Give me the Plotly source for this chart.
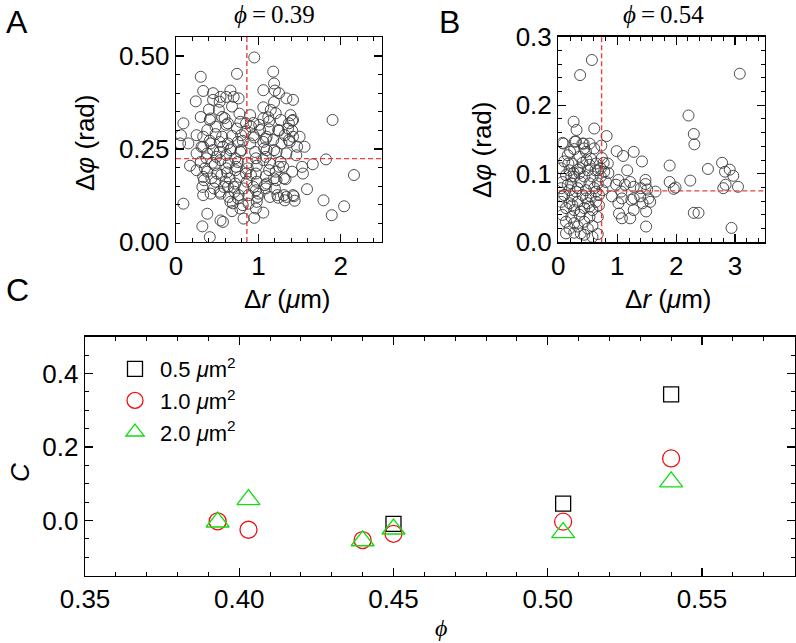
import plotly.graph_objects as go

# ---------------- data ----------------
# Panel A (phi = 0.39): displacement (um) vs orientation change (rad)
a_dr = [0.95,0.74,1.18,0.30,1.19,1.20,1.06,0.33,0.45,0.66,1.34,1.42,0.24,0.45,0.54,0.76,0.61,0.70,1.19,1.25,
        0.68,0.52,0.40,0.42,0.30,0.56,0.77,0.90,1.06,1.15,1.21,1.39,1.90,0.09,0.63,0.78,0.94,1.06,1.12,1.27,
        1.42,1.37,0.91,0.74,0.48,0.38,0.84,1.02,1.13,1.24,1.36,0.25,0.06,0.05,0.15,0.33,0.48,0.56,0.68,0.79,
        0.94,1.10,1.32,1.42,1.50,1.38,1.28,1.56,1.47,1.18,1.06,0.90,0.75,0.63,0.53,0.42,0.31,0.25,0.38,0.53,
        0.66,0.78,0.96,1.10,1.22,1.34,1.46,1.82,1.66,1.53,0.17,0.30,0.44,0.54,0.64,0.75,0.87,0.98,1.06,1.14,
        1.27,1.30,1.41,1.54,2.16,0.25,0.38,0.50,0.62,0.72,0.85,0.97,1.09,1.21,1.33,0.34,0.48,0.60,0.72,0.86,
        0.98,1.10,1.22,0.32,0.46,0.58,0.70,0.82,0.94,1.08,1.59,0.33,0.42,0.54,0.64,0.76,0.88,1.00,1.14,1.24,
        1.34,1.32,1.43,1.44,1.79,0.09,0.66,0.88,0.98,2.04,0.78,0.97,0.68,1.06,0.38,1.89,0.82,0.95,0.54,0.57,
        0.32,0.41,
        0.53,0.59,0.41,0.61,0.85,1.01,1.13,0.41,0.81,0.95,1.09,0.33,0.45,0.57,0.67,0.79,1.07,1.19,0.37,0.49,
        0.61,0.72,0.97,1.09,0.35,0.47,0.61,0.73,0.87,1.13,1.25,0.33,0.43,0.55,0.65,0.77,0.91,1.19,0.53,0.63,
        0.71,0.97,1.09,1.23,0.75,0.99,0.69,0.81,1.41,1.25,1.41,1.37,1.31,1.42,1.31,1.20]
a_dphi = [0.496,0.452,0.458,0.444,0.426,0.407,0.408,0.406,0.400,0.407,0.386,0.382,0.378,0.382,0.390,0.386,0.390,0.390,0.376,0.400,
          0.364,0.355,0.356,0.332,0.336,0.336,0.345,0.341,0.362,0.355,0.346,0.341,0.328,0.319,0.319,0.323,0.320,0.332,0.335,0.328,
          0.328,0.319,0.310,0.305,0.310,0.301,0.296,0.301,0.303,0.301,0.305,0.287,0.287,0.265,0.265,0.283,0.290,0.283,0.285,0.287,
          0.287,0.283,0.287,0.283,0.283,0.269,0.265,0.256,0.256,0.274,0.269,0.265,0.269,0.265,0.269,0.265,0.256,0.238,0.238,0.242,
          0.247,0.242,0.242,0.247,0.242,0.238,0.233,0.222,0.209,0.202,0.205,0.215,0.213,0.220,0.211,0.215,0.213,0.205,0.220,0.211,
          0.215,0.202,0.189,0.184,0.180,0.193,0.189,0.184,0.187,0.193,0.184,0.184,0.177,0.189,0.169,0.166,0.162,0.162,0.157,0.162,
          0.162,0.157,0.166,0.148,0.144,0.148,0.148,0.144,0.148,0.153,0.142,0.126,0.130,0.130,0.121,0.126,0.126,0.130,0.121,0.119,
          0.121,0.112,0.123,0.111,0.112,0.103,0.108,0.103,0.108,0.096,0.090,0.090,0.083,0.079,0.076,0.072,0.063,0.065,0.058,0.054,
          0.042,0.013,
          0.377,0.333,0.328,0.315,0.319,0.315,0.324,0.272,0.272,0.281,0.277,0.256,0.247,0.256,0.252,0.247,0.252,0.247,0.225,0.229,
          0.234,0.225,0.225,0.229,0.198,0.207,0.198,0.202,0.198,0.193,0.202,0.175,0.171,0.180,0.171,0.175,0.180,0.171,0.135,0.148,
          0.135,0.139,0.144,0.126,0.117,0.121,0.104,0.099,0.326,0.299,0.299,0.274,0.171,0.126,0.126,0.143]

# Panel B (phi = 0.54)
b_dr = [0.57,0.37,3.08,2.21,2.30,2.31,0.26,0.61,0.31,0.82,0.09,0.28,0.43,0.73,0.44,0.20,0.99,1.28,1.10,0.74,
        1.42,0.17,0.48,0.77,1.89,2.78,1.17,2.54,2.83,2.91,2.97,0.26,0.37,0.63,0.85,1.02,1.22,1.48,1.89,2.24,
        1.48,0.98,1.13,1.28,1.40,1.51,1.65,1.99,1.96,2.84,2.80,3.05,1.07,1.24,1.39,1.53,1.28,1.08,0.91,1.02,
        1.43,1.56,1.28,1.49,1.03,2.30,2.38,1.22,1.08,1.49,2.94,
        0.07,0.30,0.41,0.53,0.27,0.47,0.61,0.16,0.36,0.55,0.10,0.24,0.41,0.64,0.05,0.19,0.33,0.50,0.67,0.78,
        0.13,0.27,0.44,0.58,0.72,0.07,0.22,0.38,0.53,0.67,0.81,0.05,0.19,0.33,0.47,0.61,0.75,0.10,0.24,0.41,
        0.55,0.69,0.05,0.19,0.33,0.50,0.64,0.13,0.27,0.44,0.58,0.07,0.22,0.36,0.53,0.67,0.13,0.27,0.44,0.19,
        0.33,0.50,0.58,0.13,0.27,0.44,0.58,0.67,0.38,
        0.16,0.30,0.47,0.64,0.24,0.38,0.53,0.69,0.07,0.22,0.36,0.53,0.72,0.84]
b_dphi = [0.266,0.244,0.246,0.185,0.158,0.143,0.176,0.166,0.164,0.155,0.144,0.147,0.144,0.141,0.137,0.132,0.133,0.132,0.126,0.123,
          0.118,0.115,0.120,0.116,0.112,0.116,0.105,0.107,0.103,0.106,0.097,0.101,0.108,0.105,0.101,0.091,0.088,0.091,0.088,0.090,
          0.085,0.084,0.084,0.081,0.079,0.077,0.074,0.080,0.078,0.084,0.079,0.081,0.074,0.062,0.067,0.064,0.064,0.064,0.067,0.057,
          0.057,0.059,0.047,0.045,0.042,0.043,0.043,0.035,0.035,0.023,0.021,
          0.145,0.147,0.144,0.144,0.136,0.132,0.137,0.127,0.125,0.122,0.118,0.115,0.116,0.115,0.108,0.105,0.106,0.105,0.105,0.103,
          0.098,0.096,0.096,0.096,0.096,0.088,0.086,0.088,0.086,0.086,0.088,0.079,0.076,0.079,0.076,0.079,0.076,0.069,0.067,0.069,
          0.067,0.069,0.059,0.057,0.059,0.057,0.059,0.050,0.047,0.050,0.047,0.040,0.037,0.040,0.037,0.037,0.030,0.028,0.030,0.020,
          0.023,0.020,0.024,0.013,0.014,0.011,0.008,0.012,0.013,
          0.084,0.074,0.064,0.074,0.054,0.045,0.052,0.054,0.067,0.096,0.101,0.113,0.108,0.115]

# Mean values (dashed guide lines)
a_mean_dr, a_mean_dphi = 0.86, 0.224
b_mean_dr, b_mean_dphi = 0.735, 0.075

# Panel C: correlation coefficient vs packing fraction
c_phi_05 = [0.45, 0.505, 0.54]
c_val_05 = [-0.009, 0.046, 0.343]
c_phi_10 = [0.393, 0.403, 0.44, 0.45, 0.505, 0.54]
c_val_10 = [-0.002, -0.025, -0.053, -0.036, -0.003, 0.169]
c_phi_20 = [0.393, 0.403, 0.44, 0.45, 0.505, 0.54]
c_val_20 = [-0.004, 0.057, -0.055, -0.023, -0.033, 0.105]
c_names = ["0.5 <i>μ</i>m<sup>2</sup>", "1.0 <i>μ</i>m<sup>2</sup>", "2.0 <i>μ</i>m<sup>2</sup>"]

# ---------------- figure ----------------
W, H = 796, 643
FONT = "Liberation Sans, Arial, sans-serif"
SERIF = "Liberation Serif, Times New Roman, serif"

def px(x):
    return x / W

def py(y):
    return 1 - y / H

fig = go.Figure()

circ = dict(symbol="circle-open", size=11, color="#3a3a3a", line=dict(width=0.9, color="#3a3a3a"))
fig.add_trace(go.Scatter(x=a_dr, y=a_dphi, mode="markers", marker=circ, xaxis="x", yaxis="y", showlegend=False))
fig.add_trace(go.Scatter(x=b_dr, y=b_dphi, mode="markers", marker=circ, xaxis="x2", yaxis="y2", showlegend=False))

dash_line = dict(color="rgba(235,40,40,0.9)", width=1.4, dash="5px,3px")
A_XR, A_YR = [0, 2.5], [0, 0.551]
B_XR, B_YR = [0, 3.5], [0, 0.3]
fig.add_trace(go.Scatter(x=[a_mean_dr, a_mean_dr], y=A_YR, mode="lines", line=dash_line, xaxis="x", yaxis="y", showlegend=False))
fig.add_trace(go.Scatter(x=A_XR, y=[a_mean_dphi, a_mean_dphi], mode="lines", line=dash_line, xaxis="x", yaxis="y", showlegend=False))
fig.add_trace(go.Scatter(x=[b_mean_dr, b_mean_dr], y=B_YR, mode="lines", line=dash_line, xaxis="x2", yaxis="y2", showlegend=False))
fig.add_trace(go.Scatter(x=B_XR, y=[b_mean_dphi, b_mean_dphi], mode="lines", line=dash_line, xaxis="x2", yaxis="y2", showlegend=False))

fig.add_trace(go.Scatter(x=c_phi_05, y=c_val_05, mode="markers", name=c_names[0],
                         marker=dict(symbol="square-open", size=15, color="black", line=dict(width=1.3, color="black")),
                         xaxis="x3", yaxis="y3"))
fig.add_trace(go.Scatter(x=c_phi_10, y=c_val_10, mode="markers", name=c_names[1],
                         marker=dict(symbol="circle-open", size=17, color="#ee1111", line=dict(width=1.3, color="#ee1111")),
                         xaxis="x3", yaxis="y3"))
fig.add_trace(go.Scatter(x=c_phi_20, y=c_val_20, mode="markers", name=c_names[2],
                         marker=dict(symbol="triangle-up-open", size=20, color="#11dd11", line=dict(width=1.3, color="#11dd11")),
                         xaxis="x3", yaxis="y3"))

def ax(domain, rng, dtick, minor, fmt, anchor):
    return dict(domain=domain, range=rng, dtick=dtick, tick0=0, tickformat=fmt, anchor=anchor,
                showline=True, linecolor="black", linewidth=1.3, mirror="allticks",
                ticks="inside", ticklen=8, tickwidth=1.2, tickcolor="black",
                minor=dict(dtick=minor, tick0=0, ticks="inside", ticklen=4, tickwidth=1, tickcolor="black"),
                showgrid=False, zeroline=False, automargin=False,
                tickfont=dict(family=FONT, size=26, color="black"))

A_X = [px(176), px(382)]
A_Y = [py(242), py(37)]
B_X = [px(558.3), px(764.5)]
B_Y = [py(242.3), py(36.7)]
C_X = [px(85), px(794.5)]
C_Y = [py(575.7), py(336.7)]

fig.update_layout(
    width=W, height=H, margin=dict(l=0, r=0, t=0, b=0, pad=0, autoexpand=False),
    paper_bgcolor="white", plot_bgcolor="white",
    xaxis=ax(A_X, A_XR, 1, 0.2, "d", "y"),
    yaxis=ax(A_Y, A_YR, 0.25, 0.05, ".2f", "x"),
    xaxis2=ax(B_X, B_XR, 1, 0.2, "d", "y2"),
    yaxis2=ax(B_Y, B_YR, 0.1, 0.02, ".1f", "x2"),
    xaxis3=ax(C_X, [0.35, 0.58], 0.05, 0.01, ".2f", "y3"),
    yaxis3=ax(C_Y, [-0.15, 0.5], 0.2, 0.05, ".1f", "x3"),
    legend=dict(x=px(110), y=py(348), xanchor="left", yanchor="top",
                bgcolor="rgba(0,0,0,0)", font=dict(family=FONT, size=22, color="black"),
                itemwidth=40, tracegroupgap=0),
    showlegend=True,
)

ann = []
def t(x, y, text, size=26, family=FONT, angle=0):
    ann.append(dict(x=px(x), y=py(y), xref="paper", yref="paper", text=text, showarrow=False,
                    xanchor="center", yanchor="middle", textangle=angle,
                    font=dict(family=family, size=size, color="black")))

TS = "\u2009"
t(17, 22, "A", 32)
t(449, 22, "B", 32)
t(17, 290, "C", 32)
t(274, 15, "<i>ϕ</i>" + TS + "=" + TS + "0.39", 25, SERIF)
t(663, 15, "<i>ϕ</i>" + TS + "=" + TS + "0.54", 25, SERIF)
t(287, 299, "Δ<i>r</i> (<i>μ</i>m)", 26)
t(668, 299, "Δ<i>r</i> (<i>μ</i>m)", 26)
t(85, 143, "Δ<i>φ</i> (rad)", 26, angle=-90)
t(482, 150, "Δ<i>φ</i> (rad)", 26, angle=-90)
t(20, 473, "<i>C</i>", 26, angle=-90)
t(441, 628, "<i>ϕ</i>", 24, SERIF)
fig.update_layout(annotations=ann)

fig.write_html("out.html", config={"displayModeBar": False, "staticPlot": True},
               post_script="document.body.style.margin='0';document.body.style.overflow='hidden';")
